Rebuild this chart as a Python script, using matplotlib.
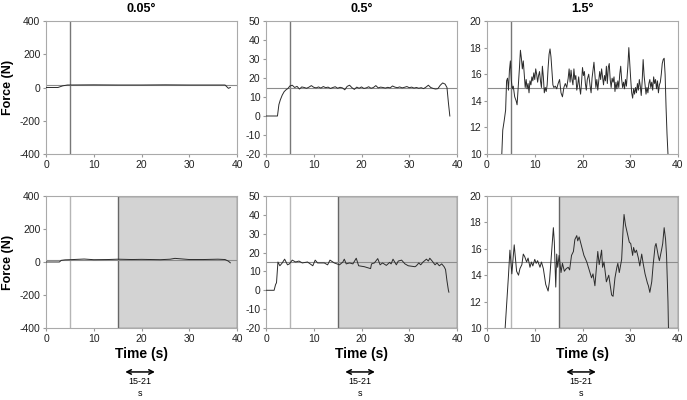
import numpy as np
import matplotlib
matplotlib.use("Agg")
import matplotlib.pyplot as plt

plt.rcParams['font.family'] = ['Liberation Sans', 'DejaVu Sans']
plt.rcParams['axes.unicode_minus'] = False

# ---- data ----
titles = ["0.05°", "0.5°", "1.5°"]
ylims = [(-400, 400), (-20, 50), (10, 20)]
yticks = [[-400, -200, 0, 200, 400],
          [-20, -10, 0, 10, 20, 30, 40, 50],
          [10, 12, 14, 16, 18, 20]]
xticks = [0, 10, 20, 30, 40]
target_force = 15
start_line = 5
window_start = 15

# 0.05 deg, top
lo_top_t = [0, 2.5, 3.5, 4.5, 5, 10, 15, 20, 25, 30, 35, 37.5, 38.2, 38.6]
lo_top_f = [0, 0, 10, 15, 15, 16, 15, 15, 16, 15, 15, 15, -5, 0]
# 0.05 deg, bottom
lo_bot_t = [0, 2.8, 3.2, 4, 5, 8, 10, 13, 15, 18, 20, 24, 26, 27, 30, 33, 36, 37.5, 38.2, 38.6]
lo_bot_f = [0, 0, 10, 13, 14, 18, 14, 15, 17, 15, 16, 14, 17, 22, 15, 15, 17, 15, 5, -5]

# 0.5 deg, top
mid_top_t = [0, 2.4, 2.7, 3.0, 3.4, 3.8, 4.2, 4.6,
             5.0, 5.5, 6.0, 6.5, 7.0, 7.5, 8.0, 8.5, 9.0, 9.5, 10.0, 10.5, 11.0, 11.5,
             12.0, 12.5, 13.0, 13.5, 14.0, 14.5, 15.0, 15.5, 16.0, 16.5, 17.0, 17.5,
             18.0, 18.5, 19.0, 19.5, 20.0, 20.5, 21.0, 21.5, 22.0, 22.5, 23.0, 23.5,
             24.0, 24.5, 25.0, 25.5, 26.0, 26.5, 27.0, 27.5, 28.0, 28.5, 29.0, 29.5,
             30.0, 30.5, 31.0, 31.5, 32.0, 32.5, 33.0, 33.5, 34.0, 34.5, 35.0, 35.5,
             36.0, 36.5, 37.0, 37.5, 37.9, 38.2, 38.5]
mid_top_f = [0, 0, 6, 8.5, 11, 12.8, 13.8, 14.5,
             15.8, 16.2, 15.0, 15.6, 14.2, 15.3, 15.0, 14.6, 15.2, 16.0, 15.1, 14.8, 15.3, 14.7,
             15.5, 14.9, 15.2, 14.5, 15.0, 15.4, 14.6, 15.1, 14.8, 13.8, 15.6, 16.2,
             14.9, 14.0, 15.2, 14.6, 15.3, 14.5, 14.8, 15.4, 14.6, 15.0, 16.0, 14.8,
             15.2, 15.0, 14.7, 15.1, 14.8, 15.8, 15.2, 14.9, 15.3, 14.8, 15.1, 15.5,
             14.9, 15.2, 14.7, 15.0, 14.6, 14.9, 14.4, 15.2, 16.2, 15.0, 14.5, 14.2,
             14.4, 16.2, 17.4, 16.8, 15.0, 7, 0]

# 0.5 deg, bottom
mid_bot_t = [0, 1.7, 2.0, 2.2, 2.5, 2.9, 3.4, 3.9, 4.5, 4.9, 5.5, 6.2, 6.9, 7.6, 8.7,
             9.8, 10.3, 10.8, 12.2, 12.9, 13.4, 14.3, 15.4, 16.1, 16.4, 16.8, 17.5,
             18.2, 18.9, 19.4, 20.6, 21.9, 22.1, 22.7, 23.4, 23.9, 24.4, 25.2, 25.9,
             26.2, 26.6, 27.3, 27.7, 28.4, 29.1, 29.8, 31.2, 31.5, 32.0, 32.4, 32.9,
             33.6, 34.0, 34.3, 34.8, 35.4, 35.8, 36.3, 36.8, 37.3, 37.6, 37.9, 38.2, 38.3]
mid_bot_f = [0, 0, 3, 4, 15, 13, 14.5, 16.5, 13.5, 14, 16, 15, 15.5, 14.5, 15,
             13, 16, 14.5, 14.5, 13.5, 16, 14.5, 13.5, 15, 16.5, 14, 14.5,
             14, 17, 13, 12.5, 11.5, 14, 14.5, 16.8, 13.5, 14.5, 13.2, 14.8,
             14, 16.5, 13.5, 15.5, 16, 14, 13, 12.5, 13, 14.5, 13.5, 15,
             16.5, 15.5, 17, 15.5, 13.5, 14.5, 13, 14, 12.5, 11, 5, 0, -1]

# 1.5 deg, top
hi_top_t = [3.0, 3.1, 3.3, 3.6, 3.9, 4.1, 4.3, 4.5, 4.7, 4.9, 5.1, 5.3, 5.5, 5.8, 6.1, 6.3,
            6.6, 6.8, 7.0, 7.2, 7.4, 7.6, 7.8, 8.0, 8.2, 8.4, 8.6, 8.8, 9.0, 9.2, 9.4,
            9.6, 9.8, 10.0, 10.2, 10.4, 10.6, 10.8, 11.0, 11.2, 11.4, 11.6, 11.8, 12.0,
            12.2, 12.4, 12.6, 12.8, 13.0, 13.2, 13.4, 13.6, 13.8, 14.0, 14.3, 14.6,
            14.9, 15.2, 15.5, 15.8, 16.1, 16.4, 16.7, 17.0, 17.2, 17.4, 17.6, 17.8,
            18.0, 18.2, 18.4, 18.6, 18.8, 19.0, 19.2, 19.4, 19.6, 19.8, 20.0, 20.2,
            20.4, 20.6, 20.8, 21.0, 21.3, 21.6, 21.8, 22.0, 22.2, 22.4, 22.6, 22.8,
            23.0, 23.2, 23.4, 23.6, 23.8, 24.0, 24.2, 24.4, 24.6, 24.8, 25.0, 25.2,
            25.4, 25.6, 25.8, 26.0, 26.2, 26.4, 26.6, 26.8, 27.0, 27.2, 27.4, 27.6,
            27.8, 28.0, 28.2, 28.4, 28.6, 28.8, 29.0, 29.2, 29.5, 29.7, 29.9, 30.1,
            30.3, 30.5, 30.7, 30.9, 31.1, 31.3, 31.5, 31.7, 31.9, 32.1, 32.3, 32.5,
            32.7, 32.9, 33.1, 33.3, 33.5, 33.7, 33.9, 34.1, 34.3, 34.5, 34.7, 34.9,
            35.1, 35.3, 35.5, 35.7, 35.9, 36.1, 36.3, 36.5, 36.7, 36.9, 37.1, 37.3,
            37.5, 37.7, 37.9, 38.1]
hi_top_f = [8.0, 10.0, 11.8, 12.5, 13.3, 15.5, 15.7, 14.8, 16.3, 17.0, 15.5, 14.9, 15.1, 14.3, 14.0, 13.7,
            15.4, 16.5, 17.8, 17.2, 16.4, 17.0, 16.0, 15.0, 15.6, 14.9, 15.3, 14.6, 15.5, 15.2, 15.8,
            15.5, 16.1, 15.6, 16.4, 16.0, 15.4, 15.9, 16.2, 15.5, 15.0, 16.6, 15.8, 14.6,
            15.0, 14.7, 15.2, 16.5, 17.5, 17.9, 17.3, 16.2, 15.2, 15.0, 15.1, 14.9,
            15.3, 15.6, 14.6, 14.3, 15.0, 15.3, 15.0, 15.7, 16.4, 15.4, 16.3, 15.6,
            15.2, 16.4, 15.6, 15.9, 14.8, 15.2, 15.8, 15.0, 14.5, 15.4, 16.5, 15.9,
            16.2, 15.3, 14.8, 15.6, 16.0, 15.1, 14.6, 15.7, 16.3, 16.9, 16.0, 15.0,
            15.6, 14.8, 15.5, 16.2, 15.6, 16.4, 15.8, 15.2, 15.9, 15.5, 16.6, 15.3,
            16.5, 16.8, 15.6, 15.0, 15.7, 15.4, 15.8, 14.7, 15.4, 14.9, 15.5, 15.0,
            16.0, 16.6, 15.6, 15.0, 15.4, 14.9, 15.6, 15.1, 16.6, 18.0, 16.8, 15.6,
            14.6, 14.2, 14.9, 14.5, 15.0, 14.6, 15.3, 14.8, 15.6, 15.1, 14.4, 15.5,
            17.1, 15.9, 15.2, 14.5, 15.0, 14.6, 15.3, 15.6, 15.0, 15.4, 14.8, 15.8,
            15.3, 15.6, 14.9, 15.5, 14.6, 15.2, 15.4, 16.0, 16.8, 17.1, 17.2, 16.0,
            13.5, 11.5, 10.0, 8.0]

# 1.5 deg, bottom
hi_bot_t = [3.6, 3.8, 4.5, 4.8, 5.2, 5.7, 5.9, 6.2, 6.6, 6.9, 7.3, 7.6, 7.9, 8.3, 8.6,
            9.0, 9.3, 9.6, 10.0, 10.3, 10.6, 11.1, 11.4, 11.8, 12.3, 12.8, 13.1, 13.5,
            13.9, 14.1, 14.4, 14.6, 14.8, 15.1, 15.5, 15.8, 16.2, 16.6, 17.0, 17.3,
            17.7, 18.1, 18.4, 18.8, 19.0, 19.3, 19.8, 20.3, 20.9, 21.4, 21.9, 22.2,
            22.6, 23.2, 23.5, 24.0, 24.2, 24.5, 25.0, 25.5, 26.1, 26.4, 26.8, 27.2,
            27.4, 27.7, 28.2, 28.5, 28.7, 29.0, 29.5, 29.8, 30.1, 30.5, 30.7, 31.0,
            31.3, 31.7, 32.0, 32.4, 32.7, 33.1, 33.6, 33.8, 34.1, 34.5, 34.8, 35.2,
            35.4, 35.9, 36.1, 36.6, 36.8, 37.1, 37.4, 37.6, 37.9, 38.0, 38.1]
hi_bot_f = [8.0, 10.0, 14.0, 15.9, 14.1, 16.3, 15.5, 14.3, 14.0, 14.5, 14.8, 15.6, 15.4, 15.0, 15.3,
            14.6, 15.0, 14.7, 15.2, 14.9, 15.1, 14.6, 15.0, 14.5, 13.3, 12.8, 13.6, 15.6,
            17.6, 16.5, 13.1, 15.6, 14.6, 15.5, 14.2, 14.9, 14.3, 14.5, 14.6, 14.4,
            15.5, 15.8, 16.7, 17.0, 16.6, 16.9, 16.2, 15.5, 15.0, 14.4, 13.8, 14.1,
            13.2, 15.8, 14.8, 15.9, 14.6, 15.0, 13.5, 14.0, 12.5, 12.4, 13.8, 14.6,
            14.9, 14.2, 15.2, 17.5, 18.6, 17.8, 17.0, 16.5, 16.4, 15.5, 16.1, 15.7,
            15.9, 15.3, 14.7, 15.6, 14.9, 14.1, 13.4, 13.2, 12.7, 13.5, 14.8, 16.2,
            16.4, 15.4, 15.1, 16.0, 16.4, 17.6, 16.7, 15.5, 12.0, 10.0, 8.0]

top_series = [(lo_top_t, lo_top_f), (mid_top_t, mid_top_f), (hi_top_t, hi_top_f)]
bot_series = [(lo_bot_t, lo_bot_f), (mid_bot_t, mid_bot_f), (hi_bot_t, hi_bot_f)]

fig = plt.figure(figsize=(6.87, 4.0), dpi=100)

lefts = [46 / 687, 266 / 687, 487 / 687]
width = 191 / 687
rows = [(1 - 154 / 400, 133 / 400), (1 - 328 / 400, 132 / 400)]

for r, series in enumerate([top_series, bot_series]):
    y0, h = rows[r]
    for c in range(3):
        ax = fig.add_axes([lefts[c], y0, width, h])
        t, f = series[c]
        ax.set_xlim(0, 40)
        ax.set_ylim(*ylims[c])
        ax.set_xticks(xticks)
        ax.set_yticks(yticks[c])
        ax.tick_params(labelsize=7.5, length=2, color='#999999', labelcolor='#222222', pad=2)
        for s in ax.spines.values():
            s.set_color('#aaaaaa')
            s.set_linewidth(0.8)

        if r == 1:
            ax.axvspan(window_start, 40, facecolor='#d3d3d3', edgecolor='#666666', lw=1.0, zorder=0)
            vcol = '#b5b5b5'
        else:
            vcol = '#777777'
        ax.axvline(start_line, color=vcol, lw=1.0, zorder=1)
        ax.axhline(target_force, color='#8c8c8c', lw=0.8, zorder=1)
        ax.plot(t, f, color='#2b2b2b', lw=0.7, zorder=3)

        if r == 0:
            ax.text(0.5, 1.09, titles[c], transform=ax.transAxes, ha='center', va='center',
                    fontsize=9, fontweight='bold')
        if c == 0:
            ax.text(-0.2, 0.5, 'Force (N)', transform=ax.transAxes, rotation=90,
                    ha='center', va='center', fontsize=9, fontweight='bold')
        if r == 1:
            ax.text(0.5, -0.197, 'Time (s)', transform=ax.transAxes, ha='center', va='center',
                    fontsize=10, fontweight='bold')
            ax.annotate('', xy=(22.8, -0.333), xytext=(16.6, -0.333),
                        xycoords=('data', 'axes fraction'),
                        arrowprops=dict(arrowstyle='<->', lw=1.1, color='black',
                                        shrinkA=0, shrinkB=0, mutation_scale=8),
                        annotation_clip=False)
            ax.text(19.7, -0.375, '15-21\ns', transform=ax.get_xaxis_transform(),
                    ha='center', va='top', fontsize=6.5, linespacing=1.3)

fig.savefig('out.png', dpi=100)
